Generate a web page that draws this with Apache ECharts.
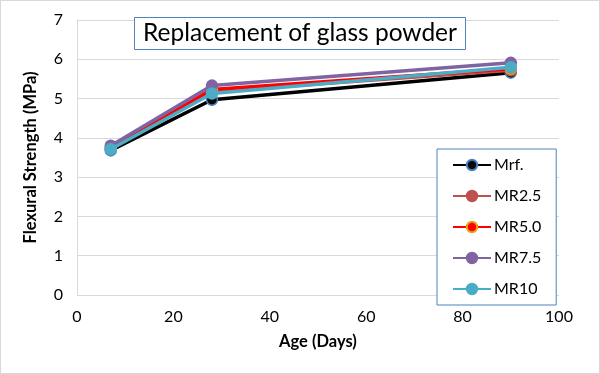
<!DOCTYPE html>
<html>
<head>
<meta charset="utf-8">
<script src="https://cdn.jsdelivr.net/npm/echarts@6/dist/echarts.min.js"></script>
<style>
html,body{margin:0;padding:0;background:#fff;}
#c{width:600px;height:374px;box-sizing:border-box;border:1px solid #d9d9d9;}
</style>
</head>
<body>
<div id="c"></div>
<script>
var ages = [7, 28, 90];
var seriesNames = ['Mrf.', 'MR2.5', 'MR5.0', 'MR7.5', 'MR10'];
var mrf = [3.68, 4.97, 5.66];
var mr25 = [3.73, 5.18, 5.72];
var mr50 = [3.75, 5.23, 5.76];
var mr75 = [3.80, 5.33, 5.91];
var mr10 = [3.71, 5.13, 5.80];
var xTicks = [0, 20, 40, 60, 80, 100];
var yTicks = [0, 1, 2, 3, 4, 5, 6, 7];

var FONT = 'Lato';
var lineColors = ['#000000', '#C0504D', '#FF0000', '#8064A2', '#4BACC6'];
var markerFill = ['#0a0a0a', '#C0504D', '#FF0000', '#8064A2', '#4BACC6'];
var markerBorder = ['#4F81BD', '#C0504D', '#E3A21A', '#8064A2', '#4BACC6'];
var allData = [mrf, mr25, mr50, mr75, mr10];

function pairs(vals) {
  return ages.map(function (a, i) { return [a, vals[i]]; });
}

var series = seriesNames.map(function (name, k) {
  return {
    name: name,
    type: 'line',
    data: pairs(allData[k]),
    symbol: 'circle',
    symbolSize: 11,
    z: 2 + k,
    lineStyle: { color: lineColors[k], width: 3.5 },
    itemStyle: { color: markerFill[k], borderColor: markerBorder[k], borderWidth: 1.5 },
    emphasis: { disabled: true },
    animation: false
  };
});

var chart = echarts.init(document.getElementById('c'), null, { renderer: 'canvas' });
chart.setOption({
  animation: false,
  textStyle: { fontFamily: FONT },
  title: {
    text: 'Replacement of glass powder',
    left: 133,
    top: 16,
    padding: [4, 9, 4, 9],
    borderColor: '#4F81BD',
    borderWidth: 1,
    backgroundColor: '#ffffff',
    textStyle: { fontFamily: FONT, fontSize: 24.5, fontWeight: 'normal', color: '#000000' }
  },
  legend: {
    orient: 'vertical',
    left: 436,
    top: 148,
    width: 118,
    padding: [8, 15, 8, 15],
    itemWidth: 38,
    itemHeight: 13,
    itemGap: 15,
    borderColor: '#4F81BD',
    borderWidth: 1,
    backgroundColor: '#ffffff',
    data: seriesNames,
    textStyle: { fontFamily: FONT, fontSize: 16, color: '#000000', padding: [0, 0, 0, -2] }
  },
  grid: { left: 76, right: 40, top: 19, bottom: 78, containLabel: false },
  xAxis: {
    type: 'value',
    min: 0, max: 100, interval: 20,
    name: 'Age (Days)',
    nameLocation: 'middle',
    nameGap: 38,
    nameTextStyle: { fontFamily: FONT, fontSize: 16.5, fontWeight: 'bold', color: '#000000' },
    axisLine: { show: false },
    axisTick: { show: false },
    splitLine: { show: false },
    axisLabel: { fontFamily: FONT, fontSize: 16, color: '#000000', margin: 14,
      formatter: function (v) { return xTicks.indexOf(v) >= 0 ? String(v) : ''; } }
  },
  yAxis: {
    type: 'value',
    min: 0, max: 7, interval: 1,
    name: 'Flexural Strength (MPa)',
    nameLocation: 'middle',
    nameGap: 38,
    nameRotate: 90,
    nameTextStyle: { fontFamily: FONT, fontSize: 16.5, fontWeight: 'bold', color: '#000000' },
    axisLine: { show: true, lineStyle: { color: '#d9d9d9', width: 1 } },
    axisTick: { show: false },
    splitLine: { show: true, lineStyle: { color: '#d9d9d9', width: 1 } },
    axisLabel: { fontFamily: FONT, fontSize: 16, color: '#000000', margin: 14,
      formatter: function (v) { return yTicks.indexOf(v) >= 0 ? String(v) : ''; } }
  },
  series: series
});
</script>
</body>
</html>
